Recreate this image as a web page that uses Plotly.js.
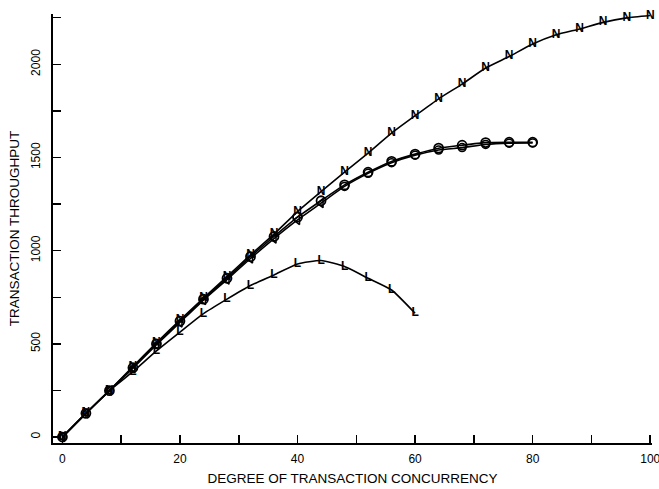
<!DOCTYPE html>
<html>
<head>
<meta charset="utf-8">
<script src="https://cdn.plot.ly/plotly-3.0.1.min.js"></script>
<style>html,body{margin:0;padding:0;background:#fff;}#chart{width:659px;height:489px;}</style>
</head>
<body>
<div id="chart"></div>
<script>
// Degree of transaction concurrency
const xN = [0,4,8,12,16,20,24,28,32,36,40,44,48,52,56,60,64,68,72,76,80,84,88,92,96,100];
const yN = [0,127,249,378,506,628,745,861,977,1089,1210,1317,1421,1524,1631,1724,1815,1894,1980,2042,2109,2159,2190,2225,2249,2262];

const xO = [0,4,8,12,16,20,24,28,32,36,40,44,48,52,56,60,64,68,72,76,80];
const yO = [0,127,249,372,500,622,740,852,968,1076,1180,1268,1353,1421,1479,1518,1550,1566,1580,1582,1582];

const xT = [0,4,8,12,16,20,24,28,32,36,40,44,48,52,56,60,64,68,72,76,80];
const yT = [0,127,249,370,495,615,735,845,958,1065,1165,1255,1345,1415,1472,1512,1540,1553,1570,1577,1578];

const xL = [0,4,8,12,16,20,24,28,32,36,40,44,48,52,56,60];
const yL = [0,127,249,351,462,563,662,740,813,870,929,947,915,852,789,664];

const xTicks = [0,20,40,60,80,100];
const yTicks = [0,500,1000,1500,2000];

const lineStyle = {color:'#000', width:1.6, shape:'spline', smoothing:0.5};
const letterFont = {family:'Liberation Sans, Arial, sans-serif', size:12, color:'#000', weight:'bold'};

const traces = [
  {x:xT, y:yT, mode:'lines+markers', line:lineStyle,
   marker:{symbol:xT.map(v => v <= 44 ? 'triangle-left-open' : 'circle-open'), size:8, color:'#000', line:{width:1.5,color:'#000'}},
   cliponaxis:false, hoverinfo:'skip'},
  {x:xO, y:yO, mode:'lines+markers', line:lineStyle,
   marker:{symbol:'circle-open', size:9, color:'#000', line:{width:1.8,color:'#000'}},
   cliponaxis:false, hoverinfo:'skip'},
  {x:xL, y:yL, mode:'lines+text', line:lineStyle, text:xL.map(()=> 'L'), textposition:'middle center',
   textfont:letterFont, cliponaxis:false, hoverinfo:'skip'},
  {x:xN, y:yN, mode:'lines+text', line:lineStyle, text:xN.map(()=> 'N'), textposition:'middle center',
   textfont:letterFont, cliponaxis:false, hoverinfo:'skip'}
];

const axisFont = {family:'Liberation Sans, Arial, sans-serif', size:12, color:'#000'};
const titleFont = {family:'Liberation Sans, Arial, sans-serif', size:13.5, color:'#000'};

const layout = {
  width:659, height:489,
  margin:{l:53, r:7, t:14, b:46},
  paper_bgcolor:'#fff', plot_bgcolor:'#fff',
  showlegend:false,
  font:axisFont,
  xaxis:{
    range:[-1.6,100.3], showgrid:false, zeroline:false,
    showline:true, linecolor:'#000', linewidth:2,
    tickmode:'array', tickvals:xTicks, ticktext:xTicks.map(String),
    ticks:'inside', ticklen:8, tickwidth:1.5, tickcolor:'#000',
    minor:{dtick:10, tick0:0, ticks:'inside', ticklen:8, tickwidth:1.5, tickcolor:'#000', showgrid:false},
    tickfont:axisFont, ticklabelstandoff:4, ticklabeloverflow:'allow',
    title:{text:'DEGREE OF TRANSACTION CONCURRENCY', font:titleFont, standoff:8}
  },
  yaxis:{
    range:[-32,2270], showgrid:false, zeroline:false,
    showline:true, linecolor:'#000', linewidth:2,
    tickmode:'array', tickvals:yTicks, ticktext:yTicks.map(String),
    tickangle:-90,
    ticks:'inside', ticklen:8, tickwidth:1.5, tickcolor:'#000',
    minor:{dtick:250, tick0:0, ticks:'inside', ticklen:8, tickwidth:1.5, tickcolor:'#000', showgrid:false},
    tickfont:axisFont, ticklabelstandoff:6,
    title:{text:'TRANSACTION THROUGHPUT', font:titleFont, standoff:6}
  }
};

Plotly.newPlot('chart', traces, layout, {displayModeBar:false, staticPlot:true});
</script>
</body>
</html>
